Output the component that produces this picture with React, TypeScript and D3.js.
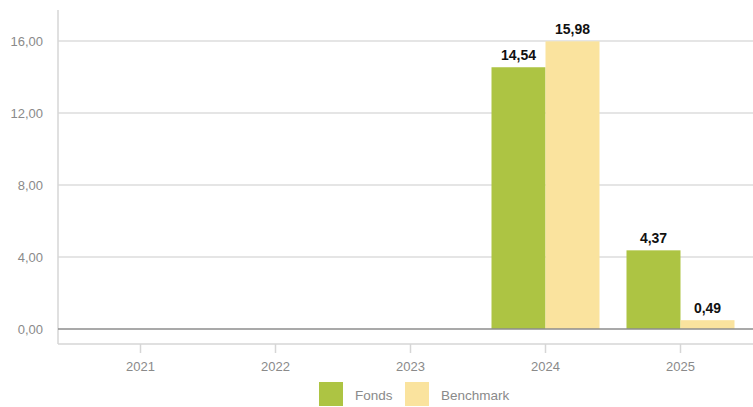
import React from "react";
import * as d3 from "d3";

const categories = ["2021", "2022", "2023", "2024", "2025"];
const seriesNames = ["Fonds", "Benchmark"];
const fonds: (number | null)[] = [null, null, null, 14.54, 4.37];
const benchmark: (number | null)[] = [null, null, null, 15.98, 0.49];
const yTicks = [0, 4, 8, 12, 16];
const colors = ["#adc443", "#fae39e"];

const W = 753;
const H = 407;
const left = 58;
const right = 753;
const top = 10;
const bottom = 344;

const fmt = (v: number) => v.toFixed(2).replace(".", ",");

export default function App() {
  const x0 = d3.scaleBand<string>().domain(categories).range([73, 748]);
  const y = d3.scaleLinear().domain([-0.833, 17.72]).range([bottom, top]);
  const inner = d3.scaleBand<string>().domain(seriesNames).range([0, 108]);
  const series = [fonds, benchmark];
  return (
    <svg width={W} height={H} style={{ position: "absolute", left: 0, top: 0, fontFamily: "'Liberation Sans', Arial, sans-serif" }}>
      <rect width={W} height={H} fill="#fff" />
      {yTicks.map((t) => (
        <g key={t}>
          {t !== 0 && <line x1={left} x2={right} y1={y(t)} y2={y(t)} stroke="#dcdcdc" strokeWidth={1.5} />}
          <text x={43} y={y(t)} dy="0.35em" textAnchor="end" fontSize={13} fill="#8a8a8a">{fmt(t)}</text>
        </g>
      ))}
      <line x1={left} x2={left} y1={top} y2={bottom} stroke="#d6d6d6" strokeWidth={1.5} />
      <line x1={left} x2={right} y1={bottom} y2={bottom} stroke="#d6d6d6" strokeWidth={1.5} />
      {categories.map((c) => {
        const cx = (x0(c) as number) + x0.bandwidth() / 2;
        return (
          <g key={c}>
            <line x1={cx} x2={cx} y1={bottom} y2={bottom + 9} stroke="#d6d6d6" strokeWidth={1.5} />
            <text x={cx} y={366} dy="0.35em" textAnchor="middle" fontSize={13} fill="#8a8a8a">{c}</text>
          </g>
        );
      })}
      {categories.map((c, i) => {
        const cx = (x0(c) as number) + x0.bandwidth() / 2;
        return series.map((s, k) => {
          const v = s[i];
          if (v == null) return null;
          const bx = cx - 54 + (inner(seriesNames[k]) as number);
          const bw = inner.bandwidth();
          return (
            <g key={c + k}>
              <rect x={bx} y={y(v)} width={bw} height={y(0) - y(v)} fill={colors[k]} />
              <text x={bx + bw / 2} y={y(v) - 7} textAnchor="middle" fontSize={14} fontWeight="bold" fill="#111">{fmt(v)}</text>
            </g>
          );
        });
      })}
      <line x1={left} x2={right} y1={y(0)} y2={y(0)} stroke="#8c8c8c" strokeWidth={1.5} />
      {seriesNames.map((n, k) => {
        const lx = [319, 405][k];
        return (
          <g key={n}>
            <rect x={lx} y={382} width={24} height={24} fill={colors[k]} />
            <text x={lx + 36} y={395} dy="0.35em" fontSize={13.5} fill="#8a8a8a">{n}</text>
          </g>
        );
      })}
    </svg>
  );
}
